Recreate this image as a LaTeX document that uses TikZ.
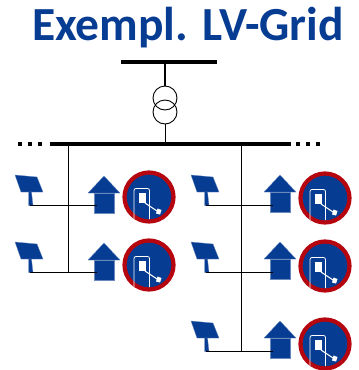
\documentclass[tikz,border=0pt]{standalone}
\usepackage{fontspec}
\setmainfont{Carlito}
\definecolor{gridblue}{HTML}{063C92}
\definecolor{ringred}{HTML}{B5050F}
\begin{document}
\begin{tikzpicture}[x=1pt, y=-1pt]
    \tikzset{
        bar/.style={line width=3.6pt, black},
        wire/.style={line width=1pt, black},
        coil/.style={circle, draw, line width=0.9pt, minimum size=24pt, inner sep=0pt},
        dots/.style={line width=4pt, black, dash pattern=on 4pt off 6pt},
        ring/.style={circle, draw=ringred, fill=gridblue, line width=4.2pt, minimum size=49pt, inner sep=0pt},
        title/.style={font=\fontsize{47.5}{47.5}\selectfont\bfseries, text=gridblue},
        icon/.style={fill=gridblue, draw=gridblue!60, line width=0.3pt}}
    \useasboundingbox (0,0) rectangle (359,370);
    \node[title] (head) at (188,27.5) {Exempl. LV-Grid};

    % Trafo
    \coordinate (hvl) at (121,62);
    \coordinate (hvr) at (217,62);
    \coordinate (hvm) at (165,62);
    \coordinate (lvl) at (50,144);
    \coordinate (lvr) at (291,144);
    \coordinate (lvm) at (165,144);
    \node[coil] (coilA) at (165,98) {};
    \node[coil] (coilB) at (165,112) {};
    \draw[bar] (hvl) -- (hvr);
    \draw[bar] (lvl) -- (lvr);
    \draw[line width=1.4pt] (hvm) -- (coilA.north);
    \draw[wire] (coilB.south) -- (lvm);
    \coordinate (dotAa) at (18,144);
    \coordinate (dotAb) at (44,144);
    \coordinate (dotBa) at (296,144);
    \coordinate (dotBb) at (322,144);
    \draw[dots] (dotAa) -- (dotAb);
    \draw[dots] (dotBa) -- (dotBb);

    % Feeder
    \coordinate (feedA) at (68.5,144);
    \coordinate (feedB) at (241,144);
    \foreach \name/\xa/\ya/\yb/\yc in {a/0/0/0/0, b/0/67/68/67, c/176/0/1/-1, d/176/67/69/66, e/176/146/147/145} {
        \begin{scope}[shift={(\xa,\ya)}]
            \fill[icon] (15,175) -- (37,177) -- (43,192) -- (21,192) -- cycle;
            \fill[icon] (28.5,192) -- (31.5,192) -- (33,205.5) -- (28.5,205.5) -- cycle;
            \coordinate (pv\name) at (30,205.5);
            \coordinate (home\name) at (97,205.5);
        \end{scope}
        \begin{scope}[shift={(\xa,\yc)}]
            \fill[icon] (104,176) -- (120,193) -- (88,193) -- cycle;
            \fill[icon] (94,193) rectangle (114,213);
        \end{scope}
        \begin{scope}[shift={(\xa,\yb)}]
            \node[ring] (ev\name) at (149,197) {};
            \draw[white, line width=0.8pt, rounded corners=2pt] (134,219) -- (134,188.5) -- (149.5,188.5) -- (149.5,219);
            \fill[white] (139,192.5) rectangle (146,203);
            \draw[white, line width=1pt] (145,203) -- (157,211);
            \fill[white] (157.5,208.5) -- (161.5,210) -- (160,214.5) -- (156,213.5) -- cycle;
        \end{scope}
    }
    \coordinate (jointA) at (68.5,272.5);
    \coordinate (jointB) at (241,351.5);
    \draw[wire] (feedA) -- (jointA);
    \draw[wire] (feedB) -- (jointB);
    \foreach \name in {a,b,c,d,e} {
        \draw[wire, line width=1.2pt] (pv\name) -- (home\name);
    }
\end{tikzpicture}
\end{document}
